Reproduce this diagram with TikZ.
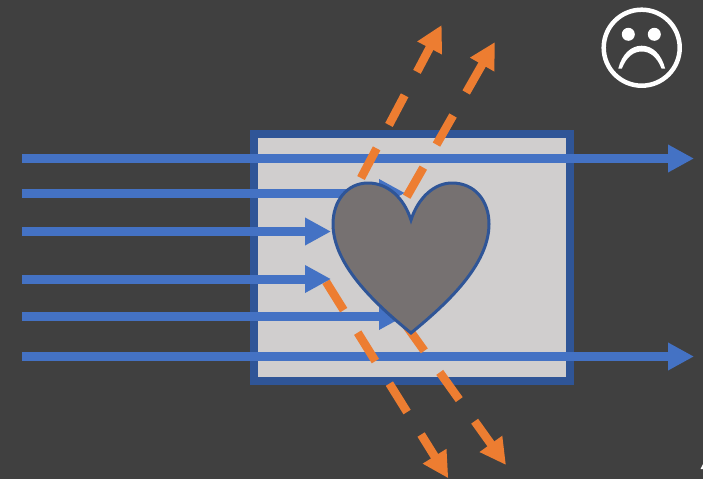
\documentclass[tikz,border=0pt]{standalone}
\usetikzlibrary{arrows.meta}
\definecolor{slatebg}{HTML}{404040}
\definecolor{boxfill}{HTML}{D0CECE}
\definecolor{boxedge}{HTML}{2F5597}
\definecolor{rayblue}{HTML}{4472C4}
\definecolor{rayorange}{HTML}{ED7D31}
\definecolor{heartfill}{HTML}{767171}
\begin{document}
\begin{tikzpicture}[x=1pt,y=-1pt,line join=miter,>={Triangle[length=26pt,width=26pt]}]
	\tikzset{blueray/.style={->,rayblue,line width=9pt},
		orangeray/.style={->,rayorange,line width=8.5pt,dash pattern=on 33.5pt off 26.5pt}}
	\fill[slatebg] (0,0) rectangle (703,479);
	\useasboundingbox (0,0) rectangle (703,479);
	\draw[fill=boxfill,draw=boxedge,line width=8pt] (254,134) rectangle (570,381);
	\foreach \y/\xend in {158.5/694,193/405,316/405,356.5/694}
	\draw[blueray] (22,\y)--(\xend,\y);
	\draw[orangeray] (361,178)--(441.7,25);
	\draw[orangeray] (406.7,196.7)--(495,42);
	\draw[orangeray] (326,281.7)--(448.3,478.3);
	\draw[orangeray] (335,226)--(506,465);
	\foreach \y in {231.5,279}
	\draw[blueray] (22,\y)--(331,\y);
	% heart
	\draw[fill=heartfill,draw=boxedge,line width=3pt] (411,220)
		.. controls (404,198) and (388,183) .. (368,183)
		.. controls (347,183) and (333,201) .. (333,224)
		.. controls (333,266) and (378,306) .. (411,333)
		.. controls (444,306) and (489,266) .. (489,224)
		.. controls (489,201) and (475,183) .. (452,183)
		.. controls (434,183) and (418,198) .. (411,220)--cycle;
	% sad face
	\draw[white,line width=4.5pt] (641.7,47.7) circle (38);
	\fill[white] (628.3,34.3) circle (6.5);
	\fill[white] (654.3,34.3) circle (6.5);
	\fill[white] (618.3,68.5) .. controls (622,54) and (631,45.7) .. (641.7,45.7)
		.. controls (652.4,45.7) and (661.4,54) .. (665.1,68.5)--(661.5,68.5)
		.. controls (657,57) and (650,51.5) .. (641.7,51.5)
		.. controls (633.4,51.5) and (626.4,57) .. (621.9,68.5)--cycle;
	% cropped mark in the corner
	\fill[white] (700.5,469)--(703,464)--(703,469)--cycle;
\end{tikzpicture}
\end{document}
